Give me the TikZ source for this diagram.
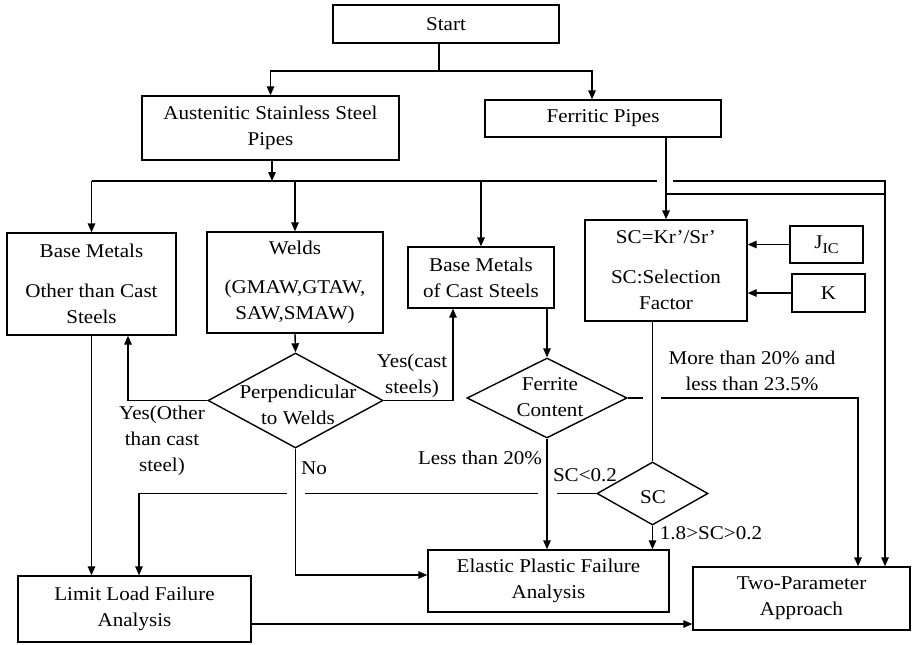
\documentclass[tikz,border=0pt]{standalone}
\usepackage{fontspec}
\setmainfont{Liberation Serif}[FakeStretch=1.08]
\usetikzlibrary{arrows.meta,shapes.geometric,calc}
\newcommand{\fs}{\fontsize{19.5}{26}\selectfont}
\begin{document}
\begin{tikzpicture}[x=1pt,y=-1pt,
  box/.style={draw, line width=1.4pt, inner sep=0pt, align=center, font=\fs},
  dia/.style={draw, diamond, line width=1.4pt, inner sep=0pt},
  txt/.style={align=center, font=\fs, inner sep=0pt},
  ln/.style={line width=1.4pt},
  arr/.style={line width=1.4pt, -{Triangle[length=9pt,width=7.5pt]}},
]
\useasboundingbox (0,0) rectangle (913,645);
% boxes
\node[box, minimum width=226pt, minimum height=38pt] (start) at (446,24) {Start};
\node[box, minimum width=257pt, minimum height=64pt] (aus) at (270.5,128) {Austenitic Stainless Steel\\Pipes};
\node[box, minimum width=236pt, minimum height=37pt] (fer) at (603,118.5) {Ferritic Pipes};
\node[box, minimum width=169pt, minimum height=102pt] (bm) at (91.5,284) {Base Metals\\[14pt]Other than Cast\\Steels};
\node[box, minimum width=176pt, minimum height=101pt] (weld) at (295,282.5) {Welds\\[13pt](GMAW,GTAW,\\SAW,SMAW)};
\node[box, minimum width=146pt, minimum height=61pt] (bmc) at (481,277.5) {Base Metals\\of Cast Steels};
\node[box, minimum width=162pt, minimum height=101pt] (sc) at (666,270.5) {SC=Kr’/Sr’\\[14pt]SC:Selection\\Factor};
\node[box, minimum width=73pt, minimum height=37pt] (jic) at (826.5,244.5) {J\raisebox{-0.5ex}{\fontsize{15}{15}\selectfont IC}};
\node[box, minimum width=73pt, minimum height=38pt] (k) at (828.5,293) {K};
\node[box, minimum width=233pt, minimum height=66pt] (limit) at (134.5,609) {Limit Load Failure\\Analysis};
\node[box, minimum width=241pt, minimum height=62pt] (epa) at (548.5,581) {Elastic Plastic Failure\\Analysis};
\node[box, minimum width=217pt, minimum height=63pt] (two) at (801.5,598.5) {Two-Parameter\\Approach};
% diamonds
\node[dia, minimum width=175pt, minimum height=95pt] (perp) at (295.5,400.5) {};
\node[dia, minimum width=160pt, minimum height=80pt] (fc) at (547,398) {};
\node[dia, minimum width=111pt, minimum height=63pt] (scd) at (652.5,493.5) {};
\node[txt] (pt) at (298,405) {Perpendicular\\to Welds};
\node[txt] (ft) at (550,397) {Ferrite\\Content};
\node[txt] (st) at (653,497) {SC};
% labels
\node[txt] (l1) at (162,441) {Yes(Other\\than cast\\steel)};
\node[txt] (l2) at (412,376) {Yes(cast\\steels)};
\node[txt] (l3) at (314,468) {No};
\node[txt] (l4) at (480,458) {Less than 20\%};
\node[txt] (l5) at (585,475) {SC<0.2};
\node[txt] (l6) at (711,533) {1.8>SC>0.2};
\node[txt] (l7) at (752,371) {More than 20\% and\\less than 23.5\%};
% coordinates
\coordinate (j1) at (439,71);
\coordinate (j2) at (272,181);
\coordinate (g1) at (657,181);
\coordinate (g2) at (673,181);
\coordinate (r1) at (885,181);
\coordinate (j3) at (666,194);
\coordinate (h1) at (643,398);
\coordinate (h2) at (661,398);
\coordinate (h3) at (858,398);
\coordinate (s1) at (557,493.5);
\coordinate (s2) at (538,493.5);
\coordinate (s3) at (305,493.5);
\coordinate (s4) at (287,493.5);
\coordinate (s5) at (139,493.5);
% connectors
\draw[ln] ([xshift=-7pt]start.south) -- (j1);
\draw[arr] (j1) -| (aus.north);
\draw[arr] (j1) -| ([xshift=-11pt]fer.north);
\draw[arr] ([xshift=1.5pt]aus.south) -- (j2);
\draw[ln] (bm.north |- j2) -- (g1);
\draw[arr] (g2) -- (r1) -- (r1 |- two.north);
\draw[arr] (bm.north |- j2) -- (bm.north);
\draw[arr] (weld.north |- j2) -- (weld.north);
\draw[arr] (bmc.north |- j2) -- (bmc.north);
\draw[arr] (fer.south -| sc.north) -- (sc.north);
\draw[ln] (j3) -- (j3 -| r1);
\draw[arr] (jic.west) -- (jic.west -| sc.east);
\draw[arr] (k.west) -- (k.west -| sc.east);
\draw[arr] (bm.south) -- (bm.south |- limit.north);
\draw[arr] (weld.south) -- (perp.north);
\draw[arr] (perp.west) -| ([xshift=36.5pt]bm.south);
\draw[arr] (perp.east) -| ([xshift=-28pt]bmc.south);
\draw[arr] (perp.south) |- ([yshift=6pt]epa.west);
\draw[arr] (bmc.south -| fc.north) -- (fc.north);
\draw[arr] (fc.south) -- (fc.south |- epa.north);
\draw[ln] (fc.east) -- (h1);
\draw[arr] (h2) -- (h3) -- (h3 |- two.north);
\draw[ln] (sc.south -| scd.north) -- (scd.north);
\draw[ln] (scd.west) -- (s1);
\draw[ln] (s2) -- (s3);
\draw[arr] (s4) -- (s5) -- (s5 |- limit.north);
\draw[arr] (scd.south) -- (scd.south |- epa.north);
\draw[arr] ([yshift=-15pt]limit.east) -- ([yshift=-15pt]limit.east -| two.west);
\end{tikzpicture}
\end{document}
